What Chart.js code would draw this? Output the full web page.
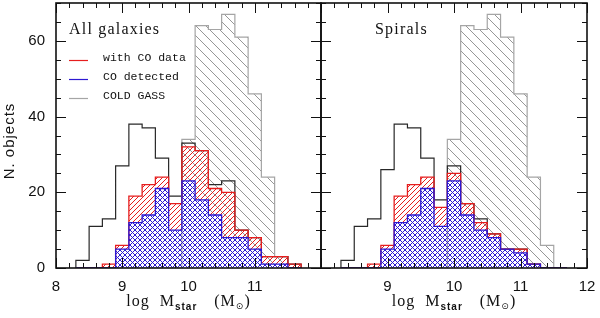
<!DOCTYPE html>
<html>
<head>
<meta charset="utf-8">
<script src="https://cdn.jsdelivr.net/npm/chart.js@4.4.0/dist/chart.umd.min.js"></script>
<style>
html, body { margin: 0; padding: 0; background: #fff; }
#wrap { position: relative; width: 600px; height: 318px; overflow: hidden; }
canvas { position: absolute; top: 0; }
#left { left: 0; }
#right { left: 320px; }
</style>
</head>
<body>
<div id="wrap">
  <canvas id="left" width="322" height="318"></canvas>
  <canvas id="right" width="280" height="318"></canvas>
</div>
<script>
// bins of log Mstar, width 0.2
const binCenters = [8.4, 8.6, 8.8, 9.0, 9.2, 9.4, 9.6, 9.8, 10.0, 10.2, 10.4, 10.6, 10.8, 11.0, 11.2, 11.4, 11.6];
const binWidth = 0.2;

const xTicksLeft = [8, 9, 10, 11];
const xTicksRight = [9, 10, 11, 12];
const yTicks = [0, 20, 40, 60];

const legendLabels = ['with CO data', 'CO detected', 'COLD GASS'];

// All galaxies
const allParent   = [2, 11, 13, 27, 38, 37, 29, 19, 33, 31, 22, 23, 10, 8, 3, 3, 1];
const allWithCO   = [0, 0, 1, 6, 19, 22, 24, 17, 32, 31, 21, 20, 10, 8, 3, 3, 1];
const allDetected = [0, 0, 0, 5, 12, 14, 21, 10, 23, 18, 14, 8, 8, 5, 1, 1, 0];
const allColdGass = [0, 0, 0, 0, 0, 0, 0, 0, 34, 64, 63, 67, 61, 46, 24, 3, 0];

// Spirals
const spParent   = [2, 11, 13, 26, 38, 37, 29, 18, 27, 17, 13, 9, 5, 5, 1, 0, 0];
const spWithCO   = [0, 0, 1, 6, 19, 22, 24, 16, 25, 17, 12, 9, 5, 5, 1, 0, 0];
const spDetected = [0, 0, 0, 5, 12, 14, 21, 11, 23, 14, 10, 8, 5, 4, 1, 0, 0];
const spColdGass = [0, 0, 0, 0, 0, 0, 0, 0, 34, 64, 63, 67, 61, 46, 24, 6, 0];

const RED = 'rgb(230,30,30)';
const BLUE = 'rgb(45,25,210)';
const GREY = 'rgb(165,165,165)';
const DARK = 'rgb(40,40,40)';

const serif = '"Liberation Serif", "DejaVu Serif", serif';
const sans = '"Liberation Sans", Arial, sans-serif';
const mono = '"Liberation Mono", "DejaVu Sans Mono", monospace';

// hatch pattern, dirs: '/', '\\' or both
function hatch(color, size, dirs, lw) {
    const c = document.createElement('canvas');
    c.width = size;
    c.height = size;
    const g = c.getContext('2d');
    g.strokeStyle = color;
    g.lineWidth = lw;
    g.beginPath();
    for (const o of [-size, 0, size]) {
        if (dirs.includes('/')) {
            g.moveTo(o, size);
            g.lineTo(o + size, 0);
        }
        if (dirs.includes('\\')) {
            g.moveTo(o, 0);
            g.lineTo(o + size, size);
        }
    }
    g.stroke();
    return g.createPattern(c, 'repeat');
}

// histogram outline as stepped points on bin edges
function stepPoints(counts) {
    const pts = [{ x: binCenters[0] - binWidth / 2, y: 0 }];
    counts.forEach((n, i) => pts.push({ x: binCenters[i] - binWidth / 2, y: n }));
    pts.push({ x: binCenters[binCenters.length - 1] + binWidth / 2, y: 0 });
    return pts;
}

function histSet(label, counts, color, pattern, width) {
    return {
        label: label,
        data: stepPoints(counts),
        stepped: true,
        borderColor: color,
        borderWidth: width,
        backgroundColor: pattern || 'transparent',
        fill: pattern ? 'origin' : false,
        pointRadius: 0,
        tension: 0
    };
}

function text(ctx, s, x, y, font, align, spacing) {
    ctx.save();
    ctx.font = font;
    ctx.letterSpacing = spacing || '0px';
    ctx.textAlign = align || 'left';
    ctx.textBaseline = 'alphabetic';
    ctx.fillStyle = '#111';
    ctx.fillText(s, x, y);
    ctx.restore();
}

function xTitle(ctx, cx, y) {
    const main = '16px ' + serif;
    const sub = 'bold 10px ' + sans;
    const parts = [
        { t: 'log', f: main }, { gap: 10 }, { t: 'M', f: main }, { t: 'star', f: sub, dy: 4 },
        { gap: 17 }, { t: '(M', f: main }, { t: '\u2299', f: '9px "DejaVu Sans", sans-serif', dy: 3 }, { t: ')', f: main }
    ];
    ctx.save();
    let w = 0;
    parts.forEach(p => {
        if (p.gap) { p.w = p.gap; } else { ctx.font = p.f; ctx.letterSpacing = '1px'; p.w = ctx.measureText(p.t).width; }
        w += p.w;
    });
    let x = cx - w / 2;
    parts.forEach(p => {
        if (!p.gap) text(ctx, p.t, x, y + (p.dy || 0), p.f, 'left', '1px');
        x += p.w;
    });
    ctx.restore();
}

function decor(cfg) {
    return {
        id: 'decor',
        afterDraw(chart) {
            const ctx = chart.ctx;
            const a = chart.chartArea;
            const xs = chart.scales.x;
            const ys = chart.scales.y;
            ctx.save();
            ctx.strokeStyle = '#111';
            ctx.lineWidth = 1;
            ctx.beginPath();
            for (let i = 0; i <= 20; i++) {
                const v = 8 + i * 0.2;
                const len = i % 5 === 0 ? 10 : 5;
                const px = Math.round(xs.getPixelForValue(v)) + 0.5;
                ctx.moveTo(px, a.bottom);
                ctx.lineTo(px, a.bottom - len);
                ctx.moveTo(px, a.top);
                ctx.lineTo(px, a.top + len);
            }
            for (let i = 0; i <= 14; i++) {
                const v = i * 5;
                const len = v % 20 === 0 ? 10 : 5;
                const py = Math.round(ys.getPixelForValue(v)) + 0.5;
                ctx.moveTo(a.left, py);
                ctx.lineTo(a.left + len, py);
                ctx.moveTo(a.right, py);
                ctx.lineTo(a.right - len, py);
            }
            ctx.stroke();
            ctx.lineWidth = 1.6;
            ctx.strokeRect(a.left, a.top, a.right - a.left, a.bottom - a.top);
            ctx.restore();

            text(ctx, cfg.title, cfg.titleX, 34, '16px ' + serif, 'left', '1.2px');

            if (cfg.legend) {
                const sets = chart.data.datasets;
                const colors = [sets[1].borderColor, sets[0].borderColor, sets[3].borderColor];
                legendLabels.forEach((lab, i) => {
                    const y = 60 + i * 19;
                    ctx.save();
                    ctx.strokeStyle = colors[i];
                    ctx.lineWidth = 1.2;
                    ctx.beginPath();
                    ctx.moveTo(69, y + 0.5);
                    ctx.lineTo(88, y + 0.5);
                    ctx.stroke();
                    ctx.restore();
                    text(ctx, lab, 103, y + 1, '11.5px ' + mono, 'left');
                });
            }

            if (cfg.yTitle) {
                ctx.save();
                ctx.translate(14, 141);
                ctx.rotate(-Math.PI / 2);
                text(ctx, 'N. objects', 0, 0, '15px ' + sans, 'center', '1px');
                ctx.restore();
            }

            xTitle(ctx, xs.getPixelForValue(10), 306);
        }
    };
}

function makePanel(id, sets, xTicks, showY, padding, cfg) {
    return new Chart(document.getElementById(id), {
        type: 'line',
        data: {
            datasets: [
                histSet('CO detected', sets[2], BLUE, hatch(BLUE, 5, '/\\', 1), 1.3),
                histSet('with CO data', sets[1], RED, hatch(RED, 5, '/', 1), 1.3),
                histSet('parent', sets[0], DARK, null, 1.2),
                histSet('COLD GASS', sets[3], GREY, hatch('rgb(150,150,150)', 10, '\\', 1), 1.2)
            ]
        },
        options: {
            responsive: false,
            animation: false,
            devicePixelRatio: 1,
            layout: { padding: padding },
            plugins: { legend: { display: false }, tooltip: { enabled: false } },
            scales: {
                x: {
                    type: 'linear',
                    min: 8,
                    max: 12,
                    grid: { display: false, drawTicks: true, tickLength: 10 },
                    border: { display: false },
                    afterFit: s => { s.height = 50; s.paddingLeft = 0; s.paddingRight = 0; },
                    afterBuildTicks: s => { s.ticks = xTicks.map(v => ({ value: v })); },
                    ticks: { padding: 0, maxRotation: 0, color: '#111', font: { family: sans, size: 15 } }
                },
                y: {
                    display: showY,
                    min: 0,
                    max: 70,
                    grid: { display: false, drawTicks: true, tickLength: 11 },
                    border: { display: false },
                    afterFit: s => { s.width = showY ? 56 : 0; s.paddingTop = 0; s.paddingBottom = 0; },
                    afterBuildTicks: s => { s.ticks = yTicks.map(v => ({ value: v })); },
                    ticks: { padding: 0, color: '#111', font: { family: sans, size: 15 } }
                }
            }
        },
        plugins: [decor(cfg)]
    });
}

makePanel('left', [allParent, allWithCO, allDetected, allColdGass], xTicksLeft, true,
    { top: 3, right: 1, left: 0, bottom: 0 },
    { title: 'All galaxies', titleX: 69, legend: true, yTitle: true });

makePanel('right', [spParent, spWithCO, spDetected, spColdGass], xTicksRight, false,
    { top: 3, right: 13, left: 1, bottom: 0 },
    { title: 'Spirals', titleX: 55, legend: false, yTitle: false });
</script>
</body>
</html>
